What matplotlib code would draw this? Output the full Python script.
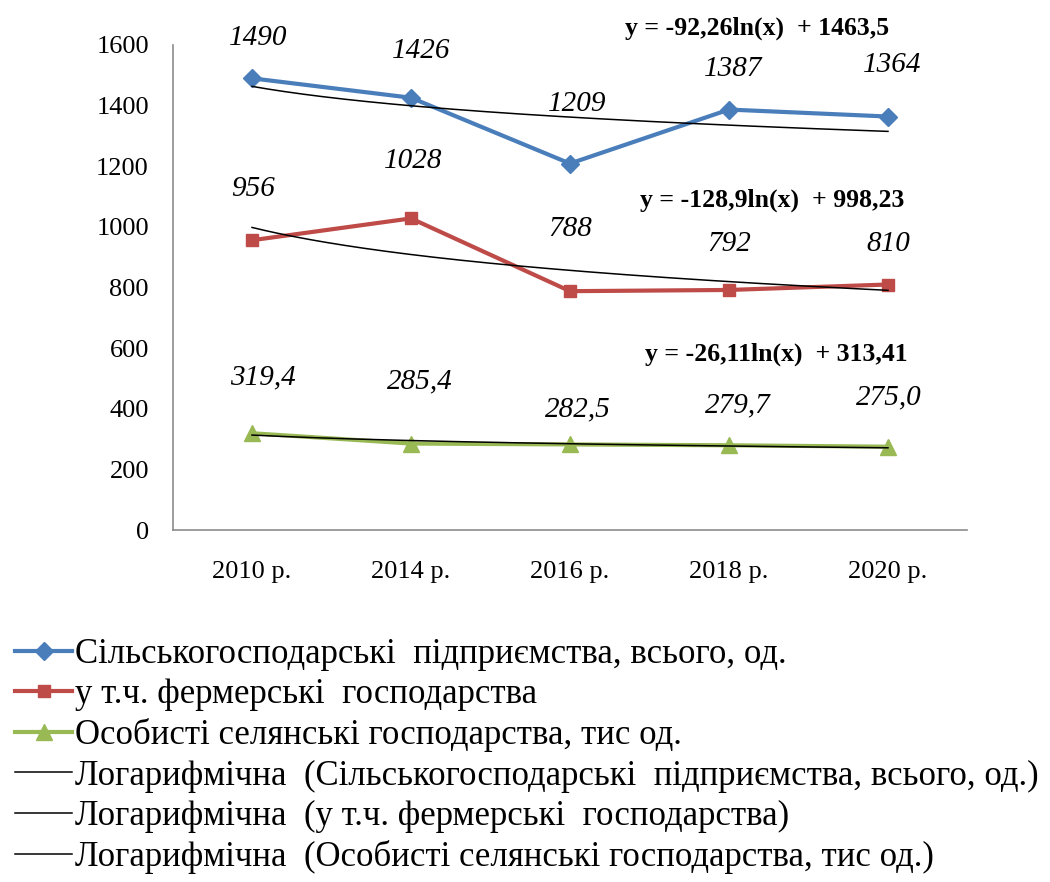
import numpy as np
import matplotlib
matplotlib.use("Agg")
import matplotlib.pyplot as plt

# Дані (зчитані з діаграми)
years = ["2010 р.", "2014 р.", "2016 р.", "2018 р.", "2020 р."]
enterprises = [1490, 1426, 1209, 1387, 1364]
farms = [956, 1028, 788, 792, 810]
households = [319.4, 285.4, 282.5, 279.7, 275.0]

enterprises_lbl = ["1490", "1426", "1209", "1387", "1364"]
farms_lbl = ["956", "1028", "788", "792", "810"]
households_lbl = ["319,4", "285,4", "282,5", "279,7", "275,0"]

# коефіцієнти логарифмічних трендів (з рівнянь на діаграмі)
trend_enterprises = (-92.26, 1463.5)
trend_farms = (-128.9, 998.23)
trend_households = (-26.11, 313.41)

names = ["Сільськогосподарські  підприємства, всього, од.",
         "у т.ч. фермерські  господарства",
         "Особисті селянські господарства, тис од."]
trend_names = ["Логарифмічна  (Сільськогосподарські  підприємства, всього, од.)",
               "Логарифмічна  (у т.ч. фермерські  господарства)",
               "Логарифмічна  (Особисті селянські господарства, тис од.)"]

plt.rcParams['font.family'] = ['Liberation Serif', 'DejaVu Serif']

fig = plt.figure(figsize=(10.5, 8.82), dpi=100)
ax = fig.add_axes([0.1643, 0.399, 0.7571, 0.55])

x = np.arange(1, len(years) + 1)
xs = np.linspace(1, len(years), 200)

blue, red, green = "#4A7EBB", "#BE4B48", "#98B954"

l1, = ax.plot(x, enterprises, color=blue, lw=3, marker="D", ms=9, zorder=3)
l2, = ax.plot(x, farms, color=red, lw=3, marker="s", ms=9, zorder=3)
l3, = ax.plot(x, households, color=green, lw=3, marker="^", ms=12, zorder=3)

trends = []
for a, b in [trend_enterprises, trend_farms, trend_households]:
    t, = ax.plot(xs, a * np.log(xs) + b, color="black", lw=1.1, zorder=4)
    trends.append(t)

# підписи значень (зміщення в пікселях)
offs_e = [(6, 40), (10, 47), (7, 60), (4, 41), (4, 52)]
offs_f = [(1, 51), (2, 57), (0, 62), (0, 46), (0, 41)]
offs_h = [(11, 56), (9, 62), (8, 35), (9, 40), (1, 49)]
for vals, lbls, offs in [(enterprises, enterprises_lbl, offs_e),
                         (farms, farms_lbl, offs_f),
                         (households, households_lbl, offs_h)]:
    for xi, v, s, (dx, dy) in zip(x, vals, lbls, offs):
        ax.annotate(s, (xi, v), xytext=(dx * 0.72, dy * 0.72), textcoords="offset points",
                    ha="center", va="center", fontsize=21, style="italic")

# рівняння трендів
eqs = [("y = -92,26ln(x)  + 1463,5", 625, 28),
       ("y = -128,9ln(x)  + 998,23", 640, 200),
       ("y = -26,11ln(x)  + 313,41", 645, 354)]
for s, px, py in eqs:
    fig.text(px / 1050, 1 - py / 882, s, fontsize=18.5, fontweight="bold", va="center")

ax.set_xlim(0.5, len(years) + 0.5)
ax.set_ylim(0, 1600)
ax.set_yticks(range(0, 1601, 200))
ax.set_xticks(x)
ax.set_xticklabels(years)
ax.tick_params(length=0, labelsize=19)
ax.tick_params(axis="y", pad=17)
ax.tick_params(axis="x", pad=22)
for side in ["top", "right"]:
    ax.spines[side].set_visible(False)
for side in ["left", "bottom"]:
    ax.spines[side].set_color("#8C8C8C")
    ax.spines[side].set_linewidth(1.2)

fig.legend([l1, l2, l3] + trends, names + trend_names,
           loc="upper left", bbox_to_anchor=(0.0143, 0.277), frameon=False,
           fontsize=25, handlelength=1.65, handletextpad=0.08, labelspacing=0.21,
           borderpad=0, borderaxespad=0)

fig.savefig("out.png", dpi=100)
